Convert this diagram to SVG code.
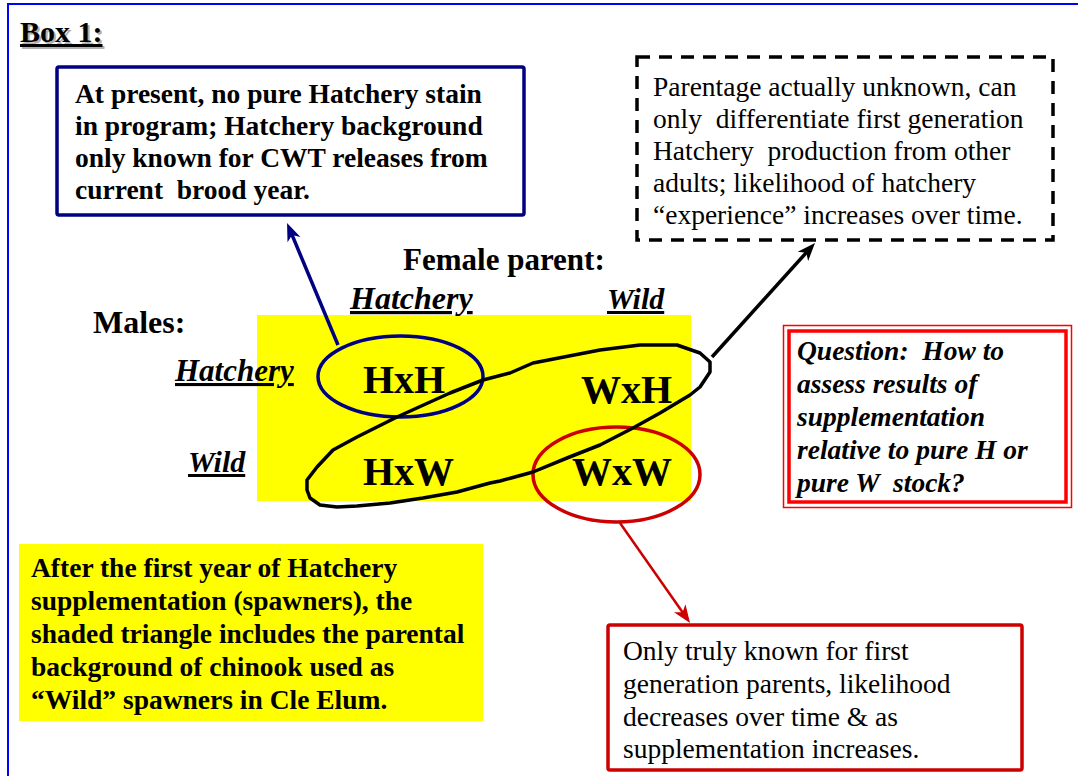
<svg xmlns="http://www.w3.org/2000/svg" width="1078" height="776" viewBox="0 0 1078 776">
<style>
text{font-family:"Liberation Serif","Times New Roman",serif;fill:#000;white-space:pre}
.b{font-weight:bold}
.i{font-style:italic}
.t{font-size:27.5px}
.u{text-decoration:underline}
.big{font-size:40px;font-weight:bold}
</style>
<defs>
<marker id="ahNavy" viewBox="0 -8 18 16" markerWidth="18" markerHeight="16" markerUnits="userSpaceOnUse" refX="8" refY="0" orient="auto"><path d="M18,0 L0,-7 L5,0 L0,7 Z" fill="#000080"/></marker>
<marker id="ahBlack" viewBox="0 -8 18 16" markerWidth="18" markerHeight="16" markerUnits="userSpaceOnUse" refX="8" refY="0" orient="auto"><path d="M18,0 L0,-7 L5,0 L0,7 Z" fill="#000"/></marker>
<marker id="ahRed" viewBox="0 -8 18 16" markerWidth="18" markerHeight="16" markerUnits="userSpaceOnUse" refX="8" refY="0" orient="auto"><path d="M18,0 L0,-7 L5,0 L0,7 Z" fill="#cc0000"/></marker>
</defs>
<rect width="1078" height="776" fill="#fff"/>
<path d="M8,776 V4 H1078" fill="none" stroke="#0000ff" stroke-width="2"/>
<g id="title">
<text x="22" y="44" class="b u" font-size="30" style="fill:#b0b0b0">Box 1:</text>
<text x="20" y="42" class="b u" font-size="30">Box 1:</text>
</g>
<g id="note-hatchery">
<rect x="57" y="67" width="467" height="148" fill="#fff" stroke="#000080" stroke-width="3.5" rx="2"/>
<text class="b t" x="75" y="103">At present, no pure Hatchery stain</text>
<text class="b t" x="75" y="135">in program; Hatchery background</text>
<text class="b t" x="75" y="167">only known for CWT releases from</text>
<text class="b t" x="75" y="199">current  brood year.</text>
</g>
<g id="note-parentage">
<rect x="637" y="57" width="416" height="183" fill="#fff" stroke="#000" stroke-width="3.5" stroke-dasharray="13 9"/>
<text class="t" x="653" y="96">Parentage actually unknown, can</text>
<text class="t" x="653" y="128">only  differentiate first generation</text>
<text class="t" x="653" y="160">Hatchery  production from other</text>
<text class="t" x="653" y="192">adults; likelihood of hatchery</text>
<text class="t" x="653" y="224">“experience” increases over time.</text>
</g>
<g id="grid">
<rect x="257" y="315" width="434" height="186" fill="#ffff00"/>
<text class="big" x="363" y="393">HxH</text>
<text class="big" x="581" y="403">WxH</text>
<text class="big" x="363" y="485">HxW</text>
<text class="big" x="572" y="485">WxW</text>
</g>
<g id="labels">
<text class="b" font-size="31" x="403" y="270">Female parent:</text>
<text class="b" font-size="32" x="93" y="333">Males:</text>
<text class="b i u" font-size="32" x="350" y="309">Hatchery</text>
<text class="b i u" font-size="30" x="607" y="309">Wild</text>
<text class="b i u" font-size="31" x="175" y="381">Hatchery</text>
<text class="b i u" font-size="30" x="188" y="472">Wild</text>
</g>
<g id="ellipse-hxh"><ellipse cx="400.5" cy="376.5" rx="82.5" ry="40.5" fill="none" stroke="#000080" stroke-width="3.5"/></g>
<g id="ellipse-wxw"><ellipse cx="616.5" cy="474.5" rx="83.5" ry="47.5" fill="none" stroke="#cc0000" stroke-width="3.5"/></g>
<g id="loop"><path d="M510,373 L533,363 L600,350 L640,345 L677,345 L700,353 L710,362 L710,372 L700,387 L690,395 L660,413 L633,428 L600,445 L567,458 L533,472 L500,481 L490,483 L457,492 L423,498 L390,503 L357,506 L337,507 L320,505 L310,498 L307,490 L307,480 L317,467 L333,450 L357,437 L397,417 L450,393 L483,380 Z" fill="none" stroke="#000" stroke-width="3.5" stroke-linejoin="round"/></g>
<g id="question">
<rect x="783.5" y="325.5" width="288" height="182" fill="#fff" stroke="#ff0000" stroke-width="1.5"/>
<rect x="789" y="331" width="277" height="171" fill="none" stroke="#ff0000" stroke-width="3.5"/>
<text class="b i t" x="797" y="360">Question:  How to</text>
<text class="b i t" x="797" y="393">assess results of</text>
<text class="b i t" x="797" y="426">supplementation</text>
<text class="b i t" x="797" y="459">relative to pure H or</text>
<text class="b i t" x="797" y="492">pure W  stock?</text>
</g>
<g id="note-shaded">
<rect x="19" y="544" width="464" height="177" fill="#ffff00"/>
<text class="b t" x="31" y="577">After the first year of Hatchery</text>
<text class="b t" x="31" y="610">supplementation (spawners), the</text>
<text class="b t" x="31" y="643">shaded triangle includes the parental</text>
<text class="b t" x="31" y="676">background of chinook used as</text>
<text class="b t" x="31" y="709">“Wild” spawners in Cle Elum.</text>
</g>
<g id="note-wild">
<rect x="608" y="625" width="414" height="145" fill="#fff" stroke="#cc0000" stroke-width="3.5" rx="2"/>
<text class="t" x="623" y="660">Only truly known for first</text>
<text class="t" x="623" y="693">generation parents, likelihood</text>
<text class="t" x="623" y="726">decreases over time &amp; as</text>
<text class="t" x="623" y="758">supplementation increases.</text>
</g>
<g id="connectors" fill="none">
<line x1="338" y1="345" x2="290.9" y2="232.2" stroke="#000080" stroke-width="3.5" marker-end="url(#ahNavy)"/>
<line x1="712" y1="357" x2="808.3" y2="250.4" stroke="#000" stroke-width="3.5" marker-end="url(#ahBlack)"/>
<line x1="620" y1="523" x2="684.3" y2="614.8" stroke="#cc0000" stroke-width="2.5" marker-end="url(#ahRed)"/>
</g>
</svg>
